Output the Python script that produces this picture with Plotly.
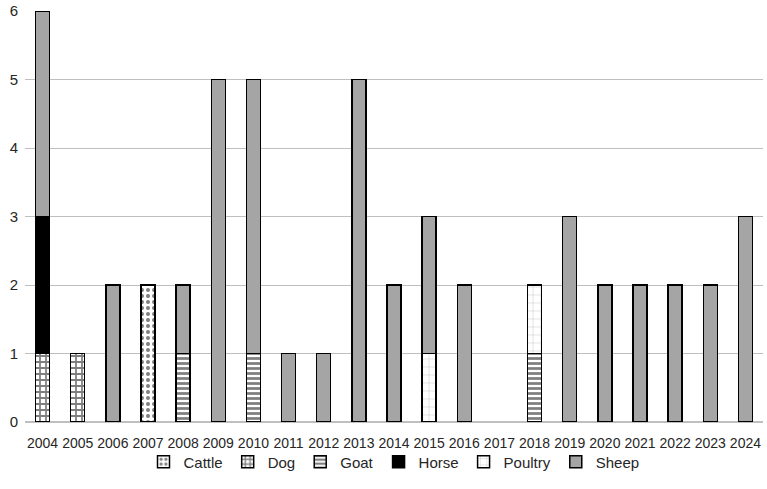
import plotly.graph_objects as go

years = [str(y) for y in range(2004, 2025)]
cattle  = [0,0,0,2,0,0,0,0,0,0,0,0,0,0,0,0,0,0,0,0,0]
dog     = [1,1,0,0,0,0,0,0,0,0,0,0,0,0,0,0,0,0,0,0,0]
goat    = [0,0,0,0,1,0,1,0,0,0,0,0,0,0,1,0,0,0,0,0,0]
horse   = [2,0,0,0,0,0,0,0,0,0,0,0,0,0,0,0,0,0,0,0,0]
poultry = [0,0,0,0,0,0,0,0,0,0,0,1,0,0,1,0,0,0,0,0,0]
sheep   = [3,0,2,0,1,5,4,1,1,5,2,2,2,0,0,3,2,2,2,2,3]

series = [
    ("Cattle", cattle, dict(fillmode="overlay", bgcolor="white", fgcolor="black", shape=".", size=6, solidity=0.35)),
    ("Dog", dog, dict(fillmode="overlay", bgcolor="white", fgcolor="black", shape="+", size=6, solidity=0.5)),
    ("Goat", goat, dict(fillmode="overlay", bgcolor="white", fgcolor="black", shape="-", size=5, solidity=0.55)),
    ("Horse", horse, None),
    ("Poultry", poultry, dict(fillmode="overlay", bgcolor="white", fgcolor="#8c8c8c", shape="+", size=8, solidity=0.12)),
    ("Sheep", sheep, None),
]
colors = {"Cattle": "white", "Dog": "white", "Goat": "white", "Horse": "black", "Poultry": "white", "Sheep": "#a5a5a5"}

fig = go.Figure()
for name, vals, pat in series:
    marker = dict(color=colors[name], line=dict(color="black", width=1.5))
    if pat:
        marker["pattern"] = pat
    fig.add_trace(go.Bar(x=years, y=[v if v else None for v in vals], name=name, marker=marker))

fig.update_layout(
    barmode="stack",
    bargap=0.6,
    width=767, height=489,
    margin=dict(l=25, r=4, t=11, b=67, pad=0),
    paper_bgcolor="white", plot_bgcolor="white",
    font=dict(family="Liberation Sans, Arial, sans-serif", size=14, color="#262626"),
    legend=dict(orientation="h", x=0.5, xanchor="center", yref="paper", y=-0.057, yanchor="top",
                bgcolor="rgba(0,0,0,0)",
                font=dict(size=15), traceorder="normal", itemwidth=30),
    xaxis=dict(tickfont=dict(size=14), showgrid=False, showline=False, ticks="outside", ticklen=8,
               tickcolor="rgba(0,0,0,0)", automargin=False),
    yaxis=dict(range=[0, 6], dtick=1, showgrid=True, gridcolor="#bfbfbf", gridwidth=1, automargin=False,
               tickfont=dict(size=15), zeroline=True, zerolinecolor="#bfbfbf", ticks="", ticklabelstandoff=6),
)
fig.write_html("out.html")
